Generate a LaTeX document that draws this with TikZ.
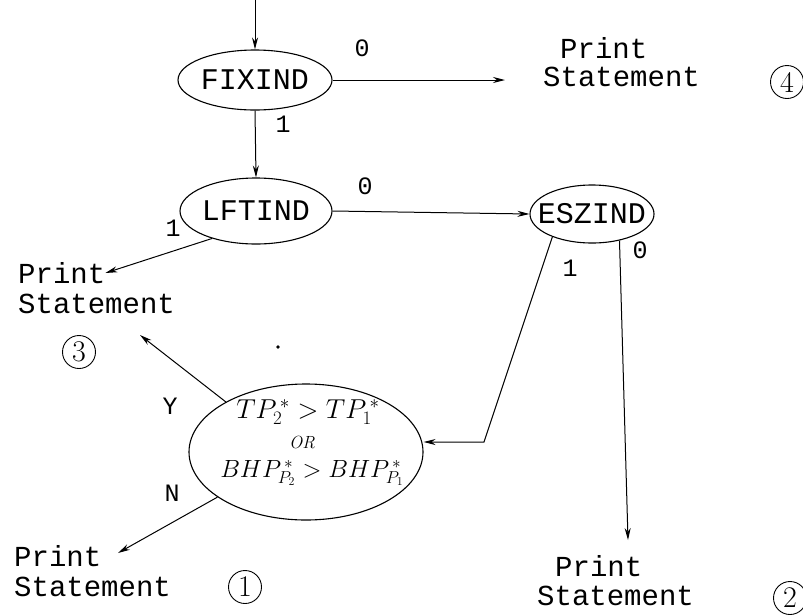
\documentclass[tikz,border=0pt]{standalone}
\usepackage{fontspec}
\usepackage{graphicx}
\newfontfamily\tw{Liberation Mono}
\usetikzlibrary{arrows.meta,shapes.geometric}
\begin{document}
\begin{tikzpicture}[x=1pt,y=-1pt,
  every node/.style={inner sep=0pt},
  ell/.style={draw,ellipse,line width=1.1pt},
  txt/.style={anchor=west,font=\tw\fontsize{29}{31}\selectfont},
  elab/.style={font=\tw\fontsize{30}{32}\selectfont},
  lab/.style={font=\tw\fontsize{25}{27}\selectfont},
  circ/.style={draw,circle,minimum size=33pt,line width=0.9pt,font=\fontsize{30}{32}\selectfont},
  arr/.style={line width=1pt,-{Stealth[length=12pt,width=6pt]}},
  hand/.style={font=\fontsize{26}{28}\selectfont}
]
\useasboundingbox (0,0) rectangle (803,614);

% decision nodes
\node[ell,minimum width=154pt,minimum height=60pt,label={[elab]center:FIXIND}] (fix) at (255,80) {};
\node[ell,minimum width=152pt,minimum height=66pt,label={[elab]center:LFTIND}] (lft) at (256,211) {};
\node[ell,minimum width=124pt,minimum height=58pt,label={[elab]center:ESZIND}] (esz) at (592,214) {};
\node[ell,minimum width=234pt,minimum height=136pt] (big) at (306,452) {};
\node[hand] (big1) at (308,412) {\scalebox{1.1}{$TP_2^{\,*}>TP_1^{\,*}$}};
\node[font=\fontsize{16}{17}\selectfont] (big2) at (302,442) {\scalebox{1.1}{$\mathit{OR}$}};
\node[hand] (big3) at (312,473) {$BHP^{\,*}_{P_2}>BHP^{\,*}_{P_1}$};

% print statements
\node[txt] (p4a) at (560,48) {Print};
\node[txt] (p4b) at (543,77) {Statement};
\node[circ] (c4) at (787,82) {4};

\node[txt] (p3a) at (18,273) {Print};
\node[txt] (p3b) at (18,304) {Statement};
\node[circ] (c3) at (79,352) {3};

\node[txt] (p1a) at (14,556) {Print};
\node[txt] (p1b) at (14,587) {Statement};
\node[circ] (c1) at (245,587) {1};

\node[txt] (p2a) at (555,566) {Print};
\node[txt] (p2b) at (537,596) {Statement};
\node[circ] (c2) at (790,598) {2};

% branch labels
\node[lab] (l1) at (362,48) {0};
\node[lab] (l2) at (283,124) {1};
\node[lab] (l3) at (173,228) {1};
\node[lab] (l4) at (365,186) {0};
\node[lab] (l5) at (570,268) {1};
\node[lab] (l6) at (640,250) {0};
\node[lab] (l7) at (170,406) {Y};
\node[lab] (l8) at (172,493) {N};

% stray dot
\fill (278,347) circle (1.8pt);

% connector ends
\coordinate (top) at (255,0);
\coordinate (t4) at (505,80);
\coordinate (t2) at (628,540);
\coordinate (ty) at (140,335);
\coordinate (tn) at (118,553);
\coordinate (bend) at (484,442);

% connectors
\draw[arr] (top) -- (fix.north);
\draw[arr] (fix.east) -- (t4);
\draw[arr] (fix.south) -- (lft.north);
\draw[arr] (lft.east) -- (esz.west);
\draw[arr] (lft.212) -- (p3a.east);
\draw[arr] (esz.-44) -- (t2);
\draw[arr] (esz.210) -- (bend) -- (big.east |- bend);
\draw[arr] (big.148) -- (ty);
\draw[arr] (big.207) -- (tn);
\end{tikzpicture}
\end{document}
